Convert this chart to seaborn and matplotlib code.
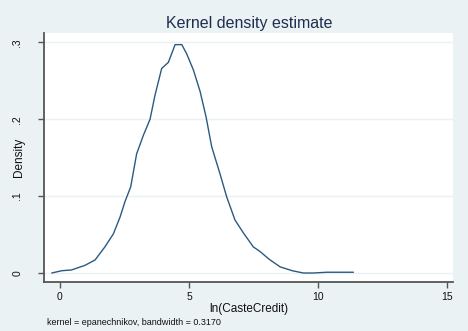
import numpy as np
import pandas as pd
import matplotlib
matplotlib.use("Agg")
import matplotlib.pyplot as plt
import seaborn as sns

# Кривая плотности
ln_credit = [-0.32, 0.07, 0.45, 0.97, 1.36, 1.74, 2.07, 2.33, 2.52, 2.74,
             2.97, 3.23, 3.49, 3.68, 3.94, 4.20, 4.46, 4.72, 4.91, 5.17,
             5.43, 5.66, 5.88, 6.20, 6.46, 6.78, 7.11, 7.49, 7.75, 8.10,
             8.53, 9.00, 9.43, 9.81, 10.34, 10.80, 11.37]
density = [0.000, 0.003, 0.004, 0.010, 0.017, 0.034, 0.051, 0.073, 0.093, 0.112,
           0.155, 0.179, 0.200, 0.231, 0.266, 0.274, 0.297, 0.297, 0.285, 0.264,
           0.236, 0.203, 0.164, 0.129, 0.099, 0.069, 0.052, 0.034, 0.028, 0.018,
           0.008, 0.003, 0.000, 0.000, 0.001, 0.001, 0.001]

x_ticks = [0, 5, 10, 15]
y_ticks = [0, 0.1, 0.2, 0.3]
y_tick_labels = ["0", ".1", ".2", ".3"]

df = pd.DataFrame({"x": ln_credit, "y": density})

bg = "#eaf2f3"
sns.set_style("white")
plt.rcParams["font.family"] = ["Liberation Sans", "DejaVu Sans"]

fig = plt.figure(figsize=(4.68, 3.31), dpi=100, facecolor=bg)
ax = fig.add_axes([0.094, 0.148, 0.874, 0.752])
ax.set_facecolor("white")

for yt in y_ticks:
    ax.axhline(yt, color=bg, lw=1, zorder=0)

sns.lineplot(data=df, x="x", y="y", sort=False, color="#2b5a80", lw=1.0, ax=ax)

ax.set_xlim(-0.62, 15.23)
ax.set_ylim(-0.0117, 0.312)
ax.set_xticks(x_ticks)
ax.set_xticklabels([str(t) for t in x_ticks], fontsize=7.5)
ax.set_yticks(y_ticks)
ax.set_yticklabels(y_tick_labels, fontsize=7.5, rotation=90, va="center")

for s in ["top", "right"]:
    ax.spines[s].set_visible(False)
for s in ["left", "bottom"]:
    ax.spines[s].set_color("#555555")
    ax.spines[s].set_linewidth(1.3)
ax.tick_params(axis="both", direction="out", length=4.5, width=1, color="#555555",
               labelcolor="#111111")
ax.tick_params(axis="y", pad=11)
ax.tick_params(axis="x", pad=2.5)
ax.tick_params(axis="both", which="both", bottom=True, left=True)

ax.set_xlabel("ln(CasteCredit)", fontsize=8.5, color="#111111", labelpad=1)
ax.set_ylabel("Density", fontsize=8.5, color="#111111")
ax.yaxis.set_label_coords(-0.046, 0.5)
fig.text(0.532, 0.93, "Kernel density estimate", ha="center", va="center",
         fontsize=11.5, color="#1e2d4f")
fig.text(0.1, 0.027, "kernel = epanechnikov, bandwidth = 0.3170", ha="left",
         va="center", fontsize=6.5, color="#111111")

fig.savefig("out.png", dpi=100, facecolor=bg)
